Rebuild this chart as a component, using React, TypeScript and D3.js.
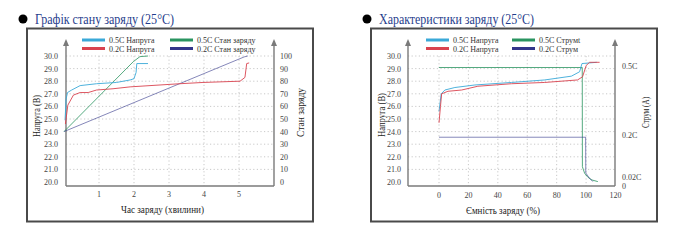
import * as d3 from "d3";

// left panel: state of charge vs time
const timeTicks = [1, 2, 3, 4, 5];
const voltTicks = [20, 21, 22, 23, 24, 25, 26, 27, 28, 29, 30];
const socTicks = [0, 10, 20, 30, 40, 50, 60, 70, 80, 90, 100];

const volt05Time = [0.03, 0.06, 0.1, 0.22, 0.46, 0.93, 1.5, 1.89, 2.0, 2.06, 2.08, 2.4];
const volt05Val = [24.9, 26.6, 27.1, 27.3, 27.65, 27.8, 27.9, 28.1, 28.2, 28.7, 29.4, 29.4];
const volt02Time = [0.04, 0.11, 0.27, 0.46, 0.69, 0.93, 1.4, 1.89, 3.31, 3.97, 5.03, 5.17, 5.22, 5.29];
const volt02Val = [24.6, 26.1, 26.9, 27.1, 27.1, 27.3, 27.4, 27.55, 27.8, 27.9, 28.0, 28.3, 29.4, 29.45];
const soc05Time = [0, 1.98, 2.17, 2.4];
const soc05Val = [40, 95.5, 99.5, 100];
const soc02Time = [0, 5.15, 5.25];
const soc02Val = [40, 99.3, 100];

// right panel: charge characteristics vs capacity
const capTicks = [0, 20, 40, 60, 80, 100, 120];
const currTicks = [0.5, 0.2, 0.02];
const currTickLabels = ["0.5C", "0.2C", "0.02C"];

const cv05Cap = [0, 1.5, 4, 10.8, 24.4, 49.3, 71.9, 90, 95.6, 97.2, 107.3];
const cv05Val = [25.6, 27.0, 27.3, 27.5, 27.7, 27.9, 28.1, 28.4, 28.75, 29.4, 29.5];
const cv02Cap = [0, 1, 1.8, 6.1, 15.4, 26.4, 49.3, 71.9, 94.2, 97.6, 100.1, 102.4, 109.2];
const cv02Val = [24.7, 26.0, 27.0, 27.2, 27.3, 27.6, 27.8, 27.9, 28.1, 28.35, 29.25, 29.5, 29.5];
const ci05Cap = [0, 97.4, 97.5, 99, 101.2, 104, 108];
const ci05Val = [0.5, 0.5, 0.073, 0.045, 0.028, 0.016, 0.009];
const ci02Cap = [0, 99.7, 99.8, 102.4, 104.6];
const ci02Val = [0.2, 0.2, 0.046, 0.023, 0.009];

const CYAN = "#3aa9d8";
const RED = "#d9434f";
const GREEN = "#2a9460";
const NAVY = "#33358a";
const FONT = "Liberation Serif";
const TICK = "#444";
const AXIS = "#7a7a7a";
const GRID = { stroke: "#bbb", strokeWidth: 0.8, strokeDasharray: "1.2,2.4" };

const zip = (xs: number[], ys: number[]) => xs.map((x, i) => [x, ys[i]] as [number, number]);

function Legend({ x, y, items }: { x: number[]; y: number; items: { c: string; t: string }[][] }) {
  return (
    <g>
      {items.map((row, r) =>
        row.map((it, c) => (
          <g key={r + "-" + c}>
            <line x1={x[c]} x2={x[c] + 23} y1={y + r * 8.5} y2={y + r * 8.5} stroke={it.c} strokeWidth={3} />
            <text x={x[c] + 27} y={y + r * 8.5 + 3} fontSize={8} fill="#333" fontFamily={FONT}>{it.t}</text>
          </g>
        ))
      )}
    </g>
  );
}

function Arrow({ x, y }: { x: number; y: number }) {
  return <path d={`M${x},${y} L${x - 3},${y + 7} L${x + 3},${y + 7} Z`} fill={AXIS} />;
}

function Frame({ x, title, w }: { x: number; title: string; w: number }) {
  return (
    <g>
      <circle cx={x - 4} cy={19} r={4.5} fill="#000" />
      <text x={x + 8} y={24} fontSize={14} fill="#1f3d8c" fontFamily={FONT}
        textLength={w} lengthAdjust="spacingAndGlyphs">{title}</text>
      <rect x={x} y={28.5} width={286} height={193} fill="#fff" stroke="#4a4a4a" strokeWidth={2} />
    </g>
  );
}

function Axes({ left, right, base }: { left: number; right: number; base: number }) {
  return (
    <g>
      <line x1={left} x2={left} y1={base} y2={44} stroke={AXIS} strokeWidth={1.4} />
      <line x1={right} x2={right} y1={base} y2={44} stroke={AXIS} strokeWidth={1.4} />
      <line x1={left} x2={right} y1={base} y2={base} stroke={AXIS} strokeWidth={1.4} />
      <Arrow x={left} y={39} />
      <Arrow x={right} y={39} />
    </g>
  );
}

function Label({ x, y, w, rot, children }: { x: number; y: number; w: number; rot?: boolean; children: string }) {
  return (
    <text transform={`translate(${x},${y})${rot ? " rotate(-90)" : ""}`} fontSize={10.5} fill="#222"
      textAnchor="middle" fontFamily={FONT} textLength={w} lengthAdjust="spacingAndGlyphs">{children}</text>
  );
}

function SocChart() {
  const x = d3.scaleLinear().domain([0, 5]).range([64, 239]);
  const yv = d3.scaleLinear().domain([20, 30]).range([182, 56]);
  const ys = d3.scaleLinear().domain([0, 100]).range([182, 56]);
  const lv = d3.line<[number, number]>().x((d) => x(d[0])).y((d) => yv(d[1]));
  const ls = d3.line<[number, number]>().x((d) => x(d[0])).y((d) => ys(d[1]));
  const left = 66, right = 274, base = 186;

  return (
    <g>
      <Frame x={27} w={139} title="Графік стану заряду (25°C)" />
      {voltTicks.slice(1).map((v) => (
        <line key={v} x1={left} x2={right} y1={yv(v)} y2={yv(v)} {...GRID} />
      ))}
      {timeTicks.map((t) => (
        <line key={t} x1={x(t)} x2={x(t)} y1={56} y2={base} {...GRID} />
      ))}
      <Axes left={left} right={right} base={base} />
      {voltTicks.map((v) => (
        <text key={v} x={58} y={yv(v) + 3} fontSize={8} fill={TICK} textAnchor="end" fontFamily={FONT}>{v.toFixed(1)}</text>
      ))}
      {socTicks.map((v) => (
        <text key={v} x={280} y={ys(v) + 3} fontSize={8} fill={TICK} fontFamily={FONT}>{v}</text>
      ))}
      {timeTicks.map((t) => (
        <text key={t} x={x(t)} y={197} fontSize={8} fill={TICK} textAnchor="middle" fontFamily={FONT}>{t}</text>
      ))}
      <path d={ls(zip(soc05Time, soc05Val)) || ""} fill="none" stroke={GREEN} strokeWidth={0.8} />
      <path d={ls(zip(soc02Time, soc02Val)) || ""} fill="none" stroke={NAVY} strokeWidth={0.8} opacity={0.75} />
      <path d={lv(zip(volt05Time, volt05Val)) || ""} fill="none" stroke={CYAN} strokeWidth={0.9} />
      <path d={lv(zip(volt02Time, volt02Val)) || ""} fill="none" stroke={RED} strokeWidth={0.9} />
      <Label x={162.5} y={213} w={83}>Час заряду (хвилини)</Label>
      <Label x={40} y={116} w={42} rot>Напруга (В)</Label>
      <Label x={304} y={112.5} w={49} rot>Стан заряду</Label>
      <Legend
        x={[82, 170]}
        y={40}
        items={[
          [{ c: CYAN, t: "0.5C Напруга" }, { c: GREEN, t: "0.5C Стан заряду" }],
          [{ c: RED, t: "0.2C Напруга" }, { c: NAVY, t: "0.2C Стан заряду" }],
        ]}
      />
    </g>
  );
}

function CapacityChart() {
  const x = d3.scaleLinear().domain([0, 120]).range([439, 615.5]);
  const yv = d3.scaleLinear().domain([20, 30]).range([182, 56]);
  const yi = d3.scaleLinear().domain([0, 0.5]).range([183.7, 67.5]);
  const lv = d3.line<[number, number]>().x((d) => x(d[0])).y((d) => yv(d[1]));
  const li = d3.line<[number, number]>().x((d) => x(d[0])).y((d) => yi(d[1]));
  const left = 408, right = 615, base = 186;

  return (
    <g>
      <Frame x={371} w={155} title="Характеристики заряду (25°C)" />
      {voltTicks.slice(1).map((v) => (
        <line key={v} x1={left} x2={right} y1={yv(v)} y2={yv(v)} {...GRID} />
      ))}
      {capTicks.slice(0, -1).map((t) => (
        <line key={t} x1={x(t)} x2={x(t)} y1={56} y2={base} {...GRID} />
      ))}
      <Axes left={left} right={right} base={base} />
      {voltTicks.map((v) => (
        <text key={v} x={401} y={yv(v) + 3} fontSize={8} fill={TICK} textAnchor="end" fontFamily={FONT}>{v.toFixed(1)}</text>
      ))}
      {currTicks.map((v, i) => (
        <text key={v} x={622} y={yi(v) + 1} fontSize={8} fill={TICK} fontFamily={FONT}>{currTickLabels[i]}</text>
      ))}
      <text x={622} y={yi(0) + 5} fontSize={8} fill={TICK} fontFamily={FONT}>0</text>
      {capTicks.map((t) => (
        <text key={t} x={x(t)} y={198} fontSize={8} fill={TICK} textAnchor="middle" fontFamily={FONT}>{t}</text>
      ))}
      <path d={li(zip(ci05Cap, ci05Val)) || ""} fill="none" stroke={GREEN} strokeWidth={0.8} />
      <path d={li(zip(ci02Cap, ci02Val)) || ""} fill="none" stroke={NAVY} strokeWidth={0.8} opacity={0.75} />
      <path d={lv(zip(cv05Cap, cv05Val)) || ""} fill="none" stroke={CYAN} strokeWidth={0.9} />
      <path d={lv(zip(cv02Cap, cv02Val)) || ""} fill="none" stroke={RED} strokeWidth={0.9} />
      <Label x={503} y={214} w={74}>Ємність заряду (%)</Label>
      <Label x={385} y={115} w={44} rot>Напруга (В)</Label>
      <Label x={649} y={112.5} w={31} rot>Струм (А)</Label>
      <Legend
        x={[426, 512]}
        y={40}
        items={[
          [{ c: CYAN, t: "0.5C Напруга" }, { c: GREEN, t: "0.5C Струмt" }],
          [{ c: RED, t: "0.2C Напруга" }, { c: NAVY, t: " 0.2C Струм" }],
        ]}
      />
    </g>
  );
}

export default function App() {
  return (
    <svg width={685} height={240} style={{ position: "fixed", left: 0, top: 0, background: "#fff" }}>
      <SocChart />
      <CapacityChart />
    </svg>
  );
}
